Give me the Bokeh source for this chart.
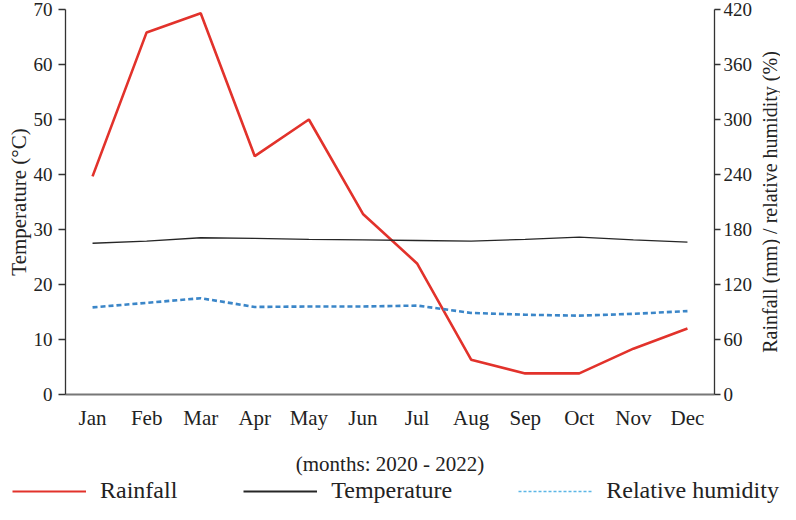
from bokeh.plotting import figure
from bokeh.layouts import column, row
from bokeh.models import (Range1d, LinearAxis, FixedTicker, Legend, LegendItem,
                          ColumnDataSource, FactorRange)
from bokeh.embed import file_html
from bokeh.resources import INLINE

months = ["Jan", "Feb", "Mar", "Apr", "May", "Jun", "Jul", "Aug", "Sep", "Oct", "Nov", "Dec"]
rainfall = [238, 395, 416, 260, 300, 197, 143, 38, 23, 23, 50, 72]
temperature = [27.5, 27.9, 28.5, 28.4, 28.2, 28.1, 28.0, 27.9, 28.2, 28.6, 28.1, 27.7]
humidity = [95, 100, 105, 95.5, 96, 96, 97, 89, 87, 86, 88, 91]
left_ticks = [0, 10, 20, 30, 40, 50, 60, 70]
right_ticks = [0, 60, 120, 180, 240, 300, 360, 420]

FONT = "Liberation Serif"
TXT = "#222222"
RAIN_C, TEMP_C, HUM_C, HUM_KEY_C = "#e2322b", "#262626", "#3b86c8", "#5cb6e6"

src = ColumnDataSource(dict(m=months, rain=rainfall, temp=temperature, hum=humidity))

# ---------------- main chart ----------------
P_W, P_H = 755, 478
p = figure(width=P_W, height=P_H, output_backend="svg", toolbar_location=None,
           x_range=FactorRange(*months, range_padding=0),
           y_range=Range1d(0, 70),
           min_border_left=65, min_border_right=38, min_border_top=9, min_border_bottom=82)
p.extra_y_ranges = {"right": Range1d(0, 420)}
p.outline_line_color = None
p.xgrid.visible = False
p.ygrid.visible = False

p.line("m", "rain", source=src, y_range_name="right", line_color=RAIN_C, line_width=2.6)
p.line("m", "temp", source=src, line_color=TEMP_C, line_width=1.3)
p.line("m", "hum", source=src, y_range_name="right", line_color=HUM_C,
       line_width=2.6, line_dash="5 3")

ya = p.yaxis[0]
ya.ticker = FixedTicker(ticks=left_ticks)
ya.axis_label = "Temperature (°C)"
ra = LinearAxis(y_range_name="right", ticker=FixedTicker(ticks=right_ticks))
p.add_layout(ra, "right")

for ax in (ya, ra):
    ax.axis_line_color = "#333333"
    ax.axis_line_width = 1.3
    ax.major_tick_line_color = "#333333"
    ax.major_tick_line_width = 1.3
    ax.major_tick_out = 7
    ax.major_tick_in = 0
    ax.minor_tick_line_color = None
    ax.major_label_text_font = FONT
    ax.major_label_text_font_size = "19px"
    ax.major_label_text_color = TXT
    ax.major_label_standoff = 6
    ax.axis_label_text_font = FONT
    ax.axis_label_text_font_size = "21px"
    ax.axis_label_text_font_style = "normal"
    ax.axis_label_text_color = TXT
ya.axis_label_standoff = 0
ra.major_tick_out = 6
ra.major_label_standoff = 3

xa = p.xaxis[0]
xa.axis_line_color = "#777777"
xa.axis_line_width = 2
xa.major_tick_line_color = None
xa.major_tick_out = 0
xa.major_tick_in = 0
xa.minor_tick_line_color = None
xa.major_label_text_font = FONT
xa.major_label_text_font_size = "21px"
xa.major_label_text_color = TXT
xa.major_label_standoff = 11
xa.axis_label = "(months: 2020 - 2022)"
xa.axis_label_text_font = FONT
xa.axis_label_text_font_size = "21px"
xa.axis_label_text_font_style = "normal"
xa.axis_label_text_color = TXT
xa.axis_label_standoff = 19

# ---------------- right-hand title strip (text reads bottom-to-top) ----------------
p3 = figure(width=25, height=P_H, output_backend="svg", toolbar_location=None,
            x_range=Range1d(0, 1), y_range=Range1d(0, 1),
            min_border_left=24, min_border_right=0, min_border_top=0, min_border_bottom=60)
p3.outline_line_color = None
p3.grid.visible = False
p3.xaxis.visible = False
t_ax = p3.yaxis[0]
t_ax.ticker = FixedTicker(ticks=[])
t_ax.axis_line_color = None
t_ax.major_tick_line_color = None
t_ax.minor_tick_line_color = None
t_ax.major_tick_out = 0
t_ax.major_label_standoff = 0
t_ax.axis_label = "Rainfall (mm) / relative humidity (%)"
t_ax.axis_label_standoff = 0
t_ax.axis_label_text_font = FONT
t_ax.axis_label_text_font_size = "20px"
t_ax.axis_label_text_font_style = "normal"
t_ax.axis_label_text_color = TXT

# ---------------- legend strip ----------------
p2 = figure(width=780, height=26, output_backend="svg", toolbar_location=None,
            x_axis_type=None, y_axis_type=None, min_border=0,
            x_range=Range1d(0, 1), y_range=Range1d(0, 1))
p2.outline_line_color = None
p2.grid.visible = False
offscreen = ColumnDataSource(dict(x=[5, 6], y=[5, 6]))
k_rain = p2.line("x", "y", source=offscreen, line_color=RAIN_C, line_width=2.2)
k_temp = p2.line("x", "y", source=offscreen, line_color=TEMP_C, line_width=2.2)
k_hum = p2.line("x", "y", source=offscreen, line_color=HUM_KEY_C, line_width=1.6, line_dash="3 2")
legend = Legend(items=[LegendItem(label="Rainfall", renderers=[k_rain]),
                       LegendItem(label="Temperature", renderers=[k_temp]),
                       LegendItem(label="Relative humidity", renderers=[k_hum])],
                orientation="horizontal", location=(12, 0),
                glyph_width=74, glyph_height=26, label_height=26, label_standoff=14, spacing=66,
                padding=0, margin=0, border_line_color=None, background_fill_alpha=0,
                label_text_font=FONT, label_text_font_size="24px", label_text_color=TXT,
                label_text_baseline="middle")
p2.add_layout(legend, "center")

layout = column(row(p, p3, spacing=0), p2, spacing=0)
open("out.html", "w").write(file_html(layout, INLINE))
